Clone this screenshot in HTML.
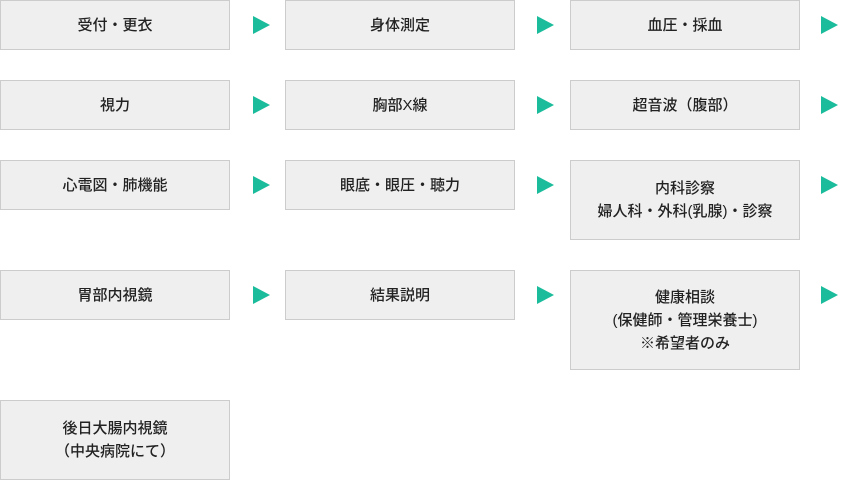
<!DOCTYPE html>
<html><head><meta charset="utf-8"><style>
body{margin:0;width:850px;height:480px;background:#fff;position:relative;overflow:hidden;font-family:"Liberation Sans","Noto Sans CJK JP",sans-serif;}
.b{position:absolute;box-sizing:border-box;width:230px;background:#efefef;border:1px solid #ccc;display:flex;align-items:center;justify-content:center;text-align:center;font-size:15px;line-height:23px;color:#222;font-weight:500;}
.a{position:absolute;width:0;height:0;border-top:9px solid transparent;border-bottom:9px solid transparent;border-left:17px solid #1abc9c;}
</style></head><body>
<div class="b" style="left:0;top:0;height:50px">受付・更衣</div>
<div class="b" style="left:285px;top:0;height:50px">身体測定</div>
<div class="b" style="left:570px;top:0;height:50px">血圧・採血</div>
<div class="a" style="left:253px;top:16px"></div><div class="a" style="left:537px;top:16px"></div><div class="a" style="left:821px;top:16px"></div>

<div class="b" style="left:0;top:80px;height:50px">視力</div>
<div class="b" style="left:285px;top:80px;height:50px">胸部X線</div>
<div class="b" style="left:570px;top:80px;height:50px">超音波（腹部）</div>
<div class="a" style="left:253px;top:96px"></div><div class="a" style="left:537px;top:96px"></div><div class="a" style="left:821px;top:96px"></div>

<div class="b" style="left:0;top:160px;height:50px">心電図・肺機能</div>
<div class="b" style="left:285px;top:160px;height:50px">眼底・眼圧・聴力</div>
<div class="b" style="left:570px;top:160px;height:80px">内科診察<br>婦人科・外科(乳腺)・診察</div>
<div class="a" style="left:253px;top:176px"></div><div class="a" style="left:537px;top:176px"></div><div class="a" style="left:821px;top:176px"></div>

<div class="b" style="left:0;top:270px;height:50px">胃部内視鏡</div>
<div class="b" style="left:285px;top:270px;height:50px">結果説明</div>
<div class="b" style="left:570px;top:270px;height:100px">健康相談<br>(保健師・管理栄養士)<br>※希望者のみ</div>
<div class="a" style="left:253px;top:286px"></div><div class="a" style="left:537px;top:286px"></div><div class="a" style="left:821px;top:286px"></div>

<div class="b" style="left:0;top:400px;height:80px">後日大腸内視鏡<br>（中央病院にて）</div>
</body></html>
